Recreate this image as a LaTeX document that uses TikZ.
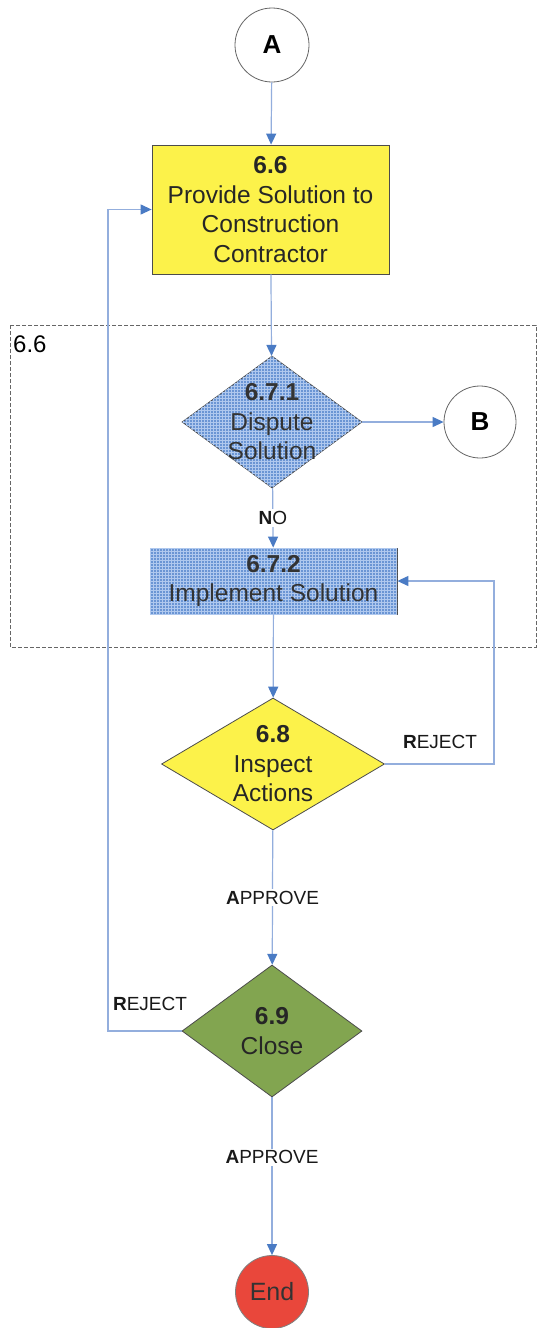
\documentclass[tikz,border=0pt]{standalone}
\usepackage{fontspec}
\setmainfont{Liberation Sans}
\usetikzlibrary{shapes.geometric,arrows.meta,patterns}
\definecolor{flowline}{HTML}{93AEDD}
\definecolor{tipblue}{HTML}{4A7BC4}
\definecolor{stepyellow}{HTML}{FCF24A}
\definecolor{stepblue}{HTML}{6A95D4}
\definecolor{hatchblue}{HTML}{AFC8EE}
\definecolor{stepgreen}{HTML}{82A550}
\definecolor{endred}{HTML}{E9473B}
\tikzset{
  outline/.style={draw=black!70, line width=0.8pt, inner sep=0pt},
  stepbox/.style={outline, rectangle},
  decision/.style={outline, diamond},
  connector/.style={outline, circle, draw=black!60, fill=white},
  hatched/.style={fill=stepblue, postaction={pattern=grid, pattern color=hatchblue}},
  steptext/.style={align=center, font=\fontsize{24.5}{29.5}\selectfont, text=black!85},
  flow/.style={draw=flowline, line width=1.2pt, -{Triangle[color=tipblue,length=11pt,width=10pt]}},
  flowlabel/.style={font=\fontsize{19}{22}\selectfont, text=black!90, inner sep=2pt},
}
\begin{document}
\begin{tikzpicture}[x=1pt,y=1pt]
\useasboundingbox (0,0) rectangle (537,-1328);
\fill[white] (0,0) rectangle (537,-1328);

% group frame for sub-steps of 6.7
\draw[dash pattern=on 4pt off 2pt, black!60, line width=0.6pt] (10,-325) rectangle (536,-647);
\node[anchor=north west, font=\fontsize{24}{26}\selectfont, inner sep=0pt] (grouplabel) at (13,-336) {6.6};

% off-page connectors
\node[connector, minimum size=74pt, font=\fontsize{26}{28}\selectfont\bfseries] (A) at (272,-45) {A};
\node[connector, minimum size=72pt, font=\fontsize{26}{28}\selectfont\bfseries] (B) at (480,-422) {B};

% 6.6
\node[stepbox, fill=stepyellow, minimum width=237pt, minimum height=129pt] (s66) at (270.5,-209.5) {};
\node[steptext] at (s66) {\textbf{6.6}\\Provide Solution to\\Construction\\Contractor};

% 6.7.1
\node[decision, hatched, minimum width=180pt, minimum height=132pt] (d671) at (272,-422) {};
\node[steptext, text=black!80] at (d671) {\textbf{6.7.1}\\Dispute\\Solution};

% 6.7.2
\node[stepbox, hatched, minimum width=247pt, minimum height=66pt] (s672) at (273.5,-581) {};
\node[steptext, text=black!80] at (s672) {\textbf{6.7.2}\\Implement Solution};

% 6.8
\node[decision, fill=stepyellow, minimum width=223pt, minimum height=132pt] (d68) at (273,-764) {};
\node[steptext] at (d68) {\textbf{6.8}\\Inspect\\Actions};

% 6.9
\node[decision, fill=stepgreen, minimum width=180pt, minimum height=132pt] (d69) at (272,-1031) {};
\node[steptext] at (d69) {\textbf{6.9}\\Close};

% End
\node[connector, fill=endred, draw=black!50, minimum size=73pt, font=\fontsize{25}{28}\selectfont, text=black!80] (end) at (272,-1292) {End};

% connectors
\draw[flow] (A) -- (s66);
\draw[flow] (s66) -- (d671);
\draw[flow] (d671) -- (B);
\draw[flow] (d671) -- node[flowlabel, fill=white] {\textbf{N}O} (s672);
\draw[flow] (s672) -- (d68);
\draw[flow] (d68.east) -- (494,-764) |- (s672.east);
\node[flowlabel] (rej68) at (440,-742) {\textbf{R}EJECT};
\draw[flow] (d68) -- node[flowlabel, fill=white] {\textbf{A}PPROVE} (d69);
\draw[flow] (d69.west) -- (108,-1031) |- (s66.west);
\node[flowlabel] (rej69) at (150,-1004) {\textbf{R}EJECT};
\draw[flow] (d69) -- node[flowlabel, fill=white, pos=0.38] {\textbf{A}PPROVE} (end);
\end{tikzpicture}
\end{document}
